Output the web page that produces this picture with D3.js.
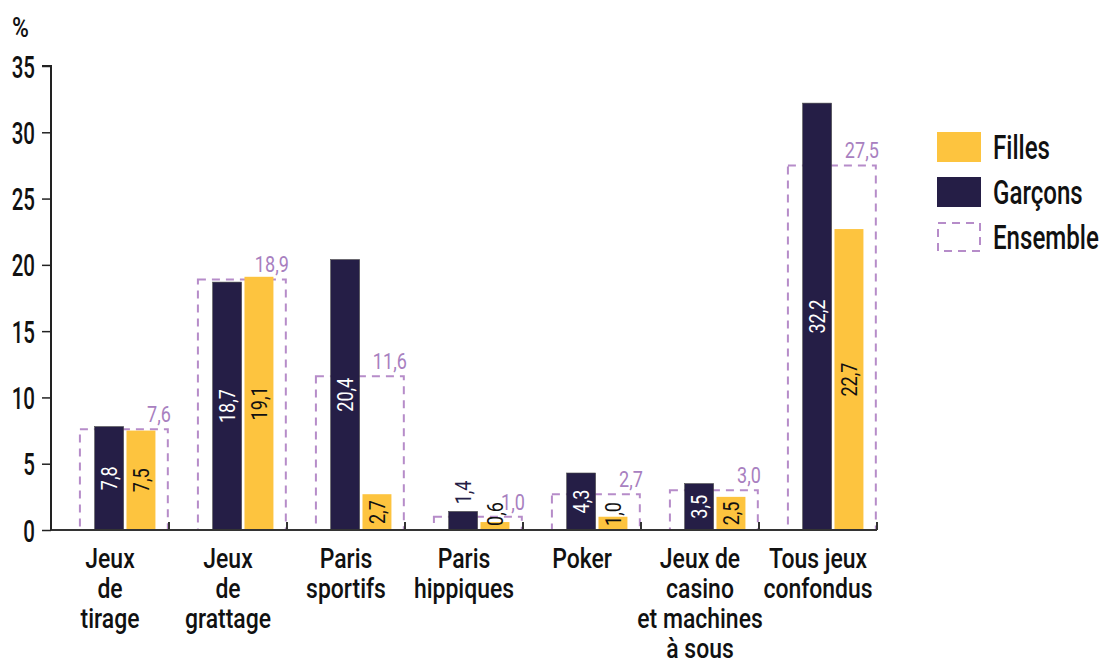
<!DOCTYPE html>
<html>
<head>
<meta charset="utf-8">
<script src="https://cdn.jsdelivr.net/npm/d3@7"></script>
<style>
  body { margin: 0; background: #fff; }
  text { font-family: Roboto, "DejaVu Sans", sans-serif; font-weight: 500; }
</style>
</head>
<body>
<div id="chartContainer"></div>
<script>
// data
var categories = [
    ["Jeux", "de", "tirage"],
    ["Jeux", "de", "grattage"],
    ["Paris", "sportifs"],
    ["Paris", "hippiques"],
    ["Poker"],
    ["Jeux de", "casino", "et machines", "à sous"],
    ["Tous jeux", "confondus"]
];
var filles   = [7.5, 19.1, 2.7, 0.6, 1.0, 2.5, 22.7];
var garcons  = [7.8, 18.7, 20.4, 1.4, 4.3, 3.5, 32.2];
var ensemble = [7.6, 18.9, 11.6, 1.0, 2.7, 3.0, 27.5];
var yTicks = [0, 5, 10, 15, 20, 25, 30, 35];

const width = 1101;
const height = 666;

var navy = "#251e46";
var yellow = "#fdc43f";
var purple = "#b68cc9";
var purpleText = "#a880c0";

// the original font is a narrow one: squeeze texts horizontally
var sxDigits = 0.64;
var sxWords = 0.82;
var sxValues = 0.82;
var sxLegend = 0.73;

var fr = d3.formatLocale({decimal: ",", thousands: " ", grouping: [3], currency: ["", " €"]});
var fmt = fr.format(".1f");

var catKeys = categories.map(function(c, i) { return i; });

const svg = d3.select("#chartContainer").append("svg")
    .attr("width", width)
    .attr("height", height);

// scales
const x = d3.scaleBand()
    .domain(catKeys)
    .range([51, 877]);

const y = d3.scaleLinear()
    .domain([0, 35])
    .range([530, 66]);

var bw = x.bandwidth();
// series inside one category (group sits right of the band centre)
const xs = d3.scaleBand()
    .domain(["Garçons", "Filles"])
    .range([bw * 0.37, bw * 0.885])
    .paddingInner(0.09);

// Ensemble dashed boxes
svg.append("g").selectAll("rect")
    .data(ensemble)
    .enter()
    .append("rect")
    .attr("x", function(d, i) { return x(i) + bw * 0.245; })
    .attr("y", function(d) { return y(d); })
    .attr("width", bw * 0.745)
    .attr("height", function(d) { return y(0) - y(d); })
    .style("fill", "none")
    .style("stroke", purple)
    .style("stroke-width", 2)
    .style("stroke-dasharray", "8,6");

// bars
var series = [
    {name: "Garçons", values: garcons, color: navy, textColor: "#fff"},
    {name: "Filles", values: filles, color: yellow, textColor: "#111"}
];

series.forEach(function(s) {
    svg.append("g").selectAll("rect")
        .data(s.values)
        .enter()
        .append("rect")
        .attr("x", function(d, i) { return x(i) + xs(s.name); })
        .attr("y", function(d) { return y(d); })
        .attr("width", xs.bandwidth())
        .attr("height", function(d) { return y(0) - y(d); })
        .style("fill", s.color)
        .style("stroke", s.name == "Garçons" ? "#4a4a4a" : "none")
        .style("stroke-width", 0.6);
});

// x axis line + ticks between categories (pointing up)
svg.append("line")
    .attr("x1", 51).attr("x2", 877)
    .attr("y1", y(0)).attr("y2", y(0))
    .style("stroke", "#333").style("stroke-width", 2);

svg.append("g").selectAll("line")
    .data(catKeys)
    .enter()
    .append("line")
    .attr("x1", function(d) { return x(d) + bw; })
    .attr("x2", function(d) { return x(d) + bw; })
    .attr("y1", y(0))
    .attr("y2", y(0) - 8)
    .style("stroke", "#333").style("stroke-width", 2);

// y axis
var yAxis = svg.append("g")
    .attr("transform", "translate(51,0)")
    .call(d3.axisLeft(y).tickValues(yTicks).tickSize(9).tickPadding(8));
yAxis.select(".domain").style("stroke", "#222").style("stroke-width", 2).attr("d", "M-9," + y(35) + "H0V" + y(0));
yAxis.selectAll(".tick line").style("stroke", "#222").style("stroke-width", 1.5);
yAxis.selectAll(".tick text")
    .attr("x", null)
    .attr("dy", null)
    .attr("transform", "translate(-16,11) scale(" + sxDigits + ",1)")
    .style("font-size", "32px")
    .style("fill", "#111");

svg.append("text")
    .attr("transform", "translate(12,37) scale(0.85,1)")
    .style("font-size", "27px")
    .style("fill", "#111")
    .text("%");

// value labels inside bars (rotated)
series.forEach(function(s) {
    svg.append("g").selectAll("text")
        .data(s.values)
        .enter()
        .append("text")
        .attr("transform", function(d, i) {
            var cx = x(i) + xs(s.name) + xs.bandwidth() / 2;
            var cy;
            if (s.name == "Garçons" && d < 2) {
                cy = y(d) - 19;  // too small: sits above the bar
            } else {
                cy = Math.min((y(0) + y(d)) / 2, y(0) - 16);
            }
            return "translate(" + cx + "," + cy + ") rotate(-90) scale(" + sxValues + ",1)";
        })
        .attr("text-anchor", "middle")
        .attr("dy", "0.36em")
        .style("font-size", "22px")
        .style("font-weight", 400)
        .style("fill", function(d) { return (s.name == "Garçons" && d < 2) ? navy : s.textColor; })
        .text(function(d) { return fmt(d); });
});

// Ensemble value labels
svg.append("g").selectAll("text")
    .data(ensemble)
    .enter()
    .append("text")
    .attr("transform", function(d, i) {
        return "translate(" + (x(i) + bw * 0.99 + 3) + "," + (y(d) - 7) + ") scale(" + sxValues + ",1)";
    })
    .attr("text-anchor", "end")
    .style("font-size", "22px")
    .style("font-weight", 400)
    .style("fill", purpleText)
    .text(function(d) { return fmt(d); });

// category labels
categories.forEach(function(lines, i) {
    svg.append("g").selectAll("text")
        .data(lines)
        .enter()
        .append("text")
        .attr("transform", function(d, j) {
            return "translate(" + (x(i) + bw / 2) + "," + (568 + j * 30) + ") scale(" + sxWords + ",1)";
        })
        .attr("text-anchor", "middle")
        .style("font-size", "28px")
        .style("fill", "#111")
        .text(function(d) { return d; });
});

// legend
var legend = [
    {name: "Filles", fill: yellow, dashed: false},
    {name: "Garçons", fill: navy, dashed: false},
    {name: "Ensemble", fill: "none", dashed: true}
];

var lg = svg.append("g").selectAll("g")
    .data(legend)
    .enter()
    .append("g")
    .attr("transform", function(d, i) { return "translate(937," + (132 + i * 45) + ")"; });

lg.append("rect")
    .attr("x", function(d) { return d.dashed ? 1 : 0; })
    .attr("y", function(d) { return d.dashed ? 1 : 0; })
    .attr("width", function(d) { return d.dashed ? 42 : 44; })
    .attr("height", function(d) { return d.dashed ? 28 : 30; })
    .style("fill", function(d) { return d.fill; })
    .style("stroke", function(d) { return d.dashed ? purple : "none"; })
    .style("stroke-width", 2)
    .style("stroke-dasharray", "8,6");

lg.append("text")
    .attr("transform", "translate(56,27) scale(" + sxLegend + ",1)")
    .style("font-size", "33px")
    .style("fill", "#111")
    .text(function(d) { return d.name; });
</script>
</body>
</html>
